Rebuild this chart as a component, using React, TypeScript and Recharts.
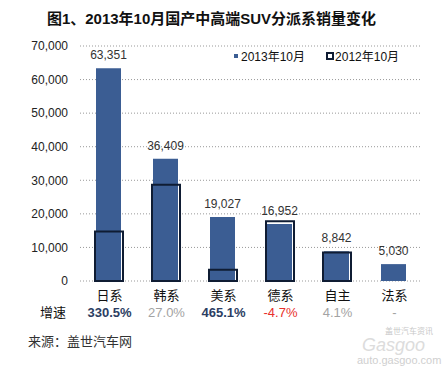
import { BarChart, Bar, XAxis, YAxis, CartesianGrid, LabelList } from 'recharts';

const categories = ['日系', '韩系', '美系', '德系', '自主', '法系'];
const sales2013 = [63351, 36409, 19027, 16952, 8842, 5030];
const sales2012 = [14716, 28669, 3367, 17788, 8494, null];
const growth = ['330.5%', '27.0%', '465.1%', '-4.7%', '4.1%', '-'];
const yTicks = [0, 10000, 20000, 30000, 40000, 50000, 60000, 70000];
const seriesNames = ['2013年10月', '2012年10月'];

const FONT = "'Liberation Sans', Arial, 'Noto Sans CJK SC', sans-serif";
const BLUE = '#3b5d93';
const NAVY = '#0f1c33';

// growth row colours, same order as categories
const growthStyle = [
    { color: '#2c3e63', weight: 700 },
    { color: '#a3a3a3', weight: 400 },
    { color: '#2c3e63', weight: 700 },
    { color: '#e8302c', weight: 400 },
    { color: '#a3a3a3', weight: 400 },
    { color: '#a3a3a3', weight: 400 },
];

const data = categories.map((name, i) => ({
    name,
    y2013: sales2013[i],
    y2012: sales2012[i],
    growth: growth[i],
}));

const fmt = (v: number) => v.toLocaleString('en-US');

function CategoryTick(props: any) {
    const { x, y, index } = props;
    const row = data[index];
    const st = growthStyle[index];
    return (
        <g>
            <text x={x + 1} y={y + 19} textAnchor="middle" fontSize={13} fill="#111" fontFamily={FONT}>
                {row.name}
            </text>
            <text x={x + 1} y={y + 36} textAnchor="middle" fontSize={13} fill={st.color} fontWeight={st.weight} fontFamily={FONT}>
                {row.growth}
            </text>
        </g>
    );
}

// legend kept outside the chart so it doesn't eat plot height
function LegendBox() {
    return (
        <div style={{ position: 'absolute', top: 47, left: 234, display: 'flex', alignItems: 'center', fontSize: 12, fontFamily: FONT, color: '#111' }}>
            <span style={{ width: 4, height: 4, background: BLUE, marginRight: 3 }} />
            <span>{seriesNames[0]}</span>
            <span style={{ width: 4, height: 4, border: `2px solid ${NAVY}`, marginLeft: 21, marginRight: 1 }} />
            <span>{seriesNames[1]}</span>
        </div>
    );
}

export default function App() {
    return (
        <div style={{ position: 'relative', width: 446, height: 367, background: '#fff', fontFamily: FONT }}>
            <style>{`body{margin:0}`}</style>
            <div style={{ position: 'absolute', top: 7, left: 0, width: 423, textAlign: 'center', fontSize: 15, fontWeight: 700, color: '#111' }}>
                图1、2013年10月国产中高端SUV分派系销量变化
            </div>
            <BarChart
                width={446}
                height={340}
                data={data}
                margin={{ top: 46, right: 24, left: 0, bottom: 9 }}
                style={{ position: 'absolute', top: 0, left: 0 }}
            >
                <CartesianGrid vertical={false} stroke="#999" strokeDasharray="1 2" />
                <XAxis
                    xAxisId="a"
                    dataKey="name"
                    axisLine={false}
                    tickLine={false}
                    tickSize={0}
                    tickMargin={0}
                    height={50}
                    tick={<CategoryTick />}
                    interval={0}
                />
                <XAxis xAxisId="b" dataKey="name" hide />
                <YAxis
                    domain={[0, 70000]}
                    ticks={yTicks}
                    axisLine={false}
                    tickLine={false}
                    tickSize={0}
                    tickMargin={12}
                    width={80}
                    tickFormatter={fmt}
                    tick={{ fill: '#222', fontSize: 12, fontFamily: FONT }}
                />
                <Bar xAxisId="a" dataKey="y2013" name={seriesNames[0]} fill={BLUE} barSize={25} isAnimationActive={false}>
                    <LabelList dataKey="y2013" position="top" offset={9} formatter={(v: any) => fmt(Number(v))} fill="#333" fontSize={12} fontFamily={FONT} />
                </Bar>
                <Bar xAxisId="b" dataKey="y2012" name={seriesNames[1]} fill="none" stroke={NAVY} strokeWidth={2} barSize={28} isAnimationActive={false} />
            </BarChart>
            <LegendBox />
            <div style={{ position: 'absolute', top: 304, left: 40, fontSize: 13, color: '#111', lineHeight: '17px' }}>
                增速
            </div>
            <div style={{ position: 'absolute', top: 331, left: 28, fontSize: 13, color: '#333' }}>
                来源：盖世汽车网
            </div>
            <div style={{ position: 'absolute', top: 327, left: 385, fontSize: 8, lineHeight: '9px', color: '#c8c8c8' }}>盖世汽车资讯</div>
            <div style={{ position: 'absolute', top: 337, left: 362, fontSize: 18, lineHeight: '16px', color: '#dcdcdc', fontStyle: 'italic' }}>Gasgoo</div>
            <div style={{ position: 'absolute', top: 355, left: 357, fontSize: 11, lineHeight: '11px', color: '#cfcfcf' }}>auto.gasgoo.com</div>
        </div>
    );
}
